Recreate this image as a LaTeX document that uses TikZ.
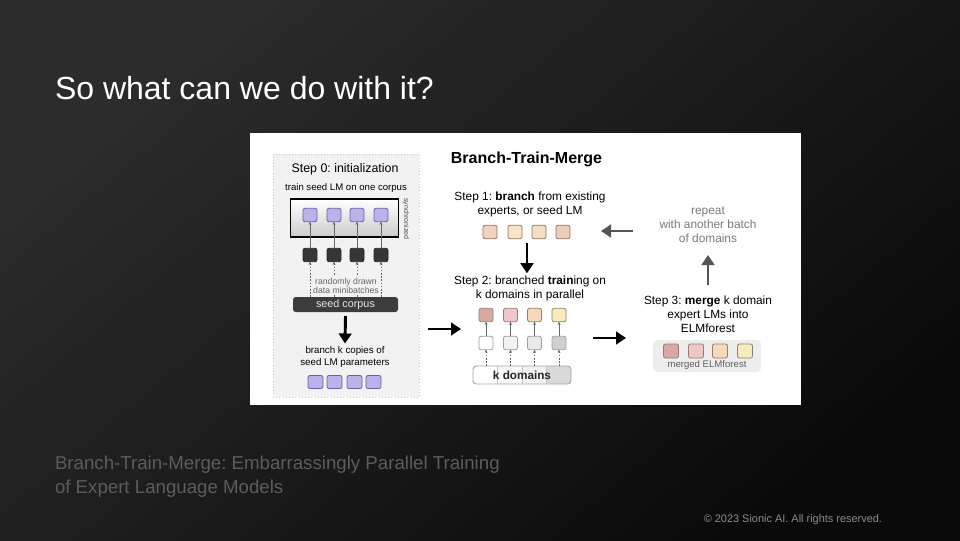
\documentclass[tikz,border=0pt]{standalone}
\usepackage{fontspec}
\setmainfont{Liberation Sans}
\usetikzlibrary{arrows.meta,calc}
\definecolor{bgA}{HTML}{2C2C2C}
\definecolor{bgB}{HTML}{0A0A0A}
\definecolor{stepbg}{HTML}{F2F2F2}
\definecolor{lav}{HTML}{BAB2EA}
\definecolor{lavd}{HTML}{6A62A6}
\definecolor{darksq}{HTML}{363636}
\definecolor{darkbar}{HTML}{3C3C3C}
\definecolor{corptext}{HTML}{E6E6E6}
\definecolor{pa}{HTML}{F2D2BC}
\definecolor{pb}{HTML}{F8E4C4}
\definecolor{pc}{HTML}{F5DCC2}
\definecolor{pd}{HTML}{EFCCBA}
\definecolor{peachd}{HTML}{8E7464}
\definecolor{ca}{HTML}{D9A9A1}
\definecolor{cb}{HTML}{F0C6C8}
\definecolor{cc}{HTML}{F5D9B8}
\definecolor{cd}{HTML}{F8EBBB}
\definecolor{wa}{HTML}{FFFFFF}
\definecolor{wb}{HTML}{F2F2F2}
\definecolor{wc}{HTML}{EAEAEA}
\definecolor{wd}{HTML}{D0D0D0}
\definecolor{kdb}{HTML}{F7F7F7}
\definecolor{kdc}{HTML}{F2F2F2}
\definecolor{kdd}{HTML}{D9D9D9}
\definecolor{mergebg}{HTML}{EDEDED}
\definecolor{reptext}{HTML}{7A7A7A}
\definecolor{arrgray}{HTML}{555555}
\definecolor{btmtext}{HTML}{5C5C5C}
\definecolor{copyc}{HTML}{8C8C8C}
\newcommand\fsz[2]{\fontsize{#1}{#2}\selectfont}
\frenchspacing
\begin{document}
\begin{tikzpicture}[x=0.75pt,y=-0.75pt,
  every node/.style={inner sep=0pt, outer sep=0pt},
  sq/.style={draw, line width=0.6pt, rounded corners=1.5pt, minimum width=10.5pt, minimum height=10pt, inner sep=0pt},
  purp/.style={sq, fill=lav, draw=lavd},
  darkbox/.style={sq, fill=darksq, draw=black!85},
  blk/.style={line width=2.2pt, -{Triangle[length=7.5pt,width=9.5pt]}},
  gry/.style={blk, draw=arrgray, color=arrgray},
  upthin/.style={draw=gray!80!black, line width=0.5pt, -{Stealth[length=2.5pt,width=2.2pt]}},
  updash/.style={upthin, dash pattern=on 1.2pt off 1.2pt}
]
\useasboundingbox (0,0) rectangle (960,540);
\shade[top color=bgA, bottom color=bgB, shading angle=40] (0,0) rectangle (960,540);

% title
\node[font=\fsz{24}{28}, text=white, anchor=base west] (title) at (55,99) {So what can we do with it?};

% panel
\node[fill=white, minimum width=413.25pt, minimum height=204pt, anchor=north west] (panel) at (250,133) {};

% ---------- step 0 ----------
\node[draw=gray!45, dotted, fill=stepbg, anchor=north west, minimum width=109.5pt, minimum height=182.25pt] (s0box) at (273,154) {};
\node[font=\fsz{9.3}{11}] (s0title) at (345,169) {Step 0: initialization};
\node[font=\fsz{7.2}{9}] (s0sub) at (346,188) {train seed LM on one corpus};
\node[draw=black, line width=1.4pt, top color=white, bottom color=gray!40, minimum width=81pt, minimum height=28pt] (sync) at (344.5,218) {};
\node[rotate=-90, font=\fsz{5.3}{6}, text=gray!60!black] (synclbl) at (406,219) {synchronized};
\node[fill=darkbar, rounded corners=2pt, minimum width=78.75pt, minimum height=11.25pt, font=\fsz{8.1}{9}, text=corptext] (corpus) at (345.5,304.5) {seed corpus};
\foreach \x [count=\i] in {310,334,357,381} {
  \node[purp] (p\i) at (\x,215) {};
  \node[darkbox] (d\i) at (\x,255) {};
  \draw[upthin] (d\i.north) -- (p\i.south);
  \draw[updash] (corpus.north -| d\i) -- (d\i.south);
}
\node[fill=stepbg, font=\fsz{6.5}{6.9}, text=gray!80!black, align=center, inner sep=1pt] (rand) at (346,285.5) {randomly drawn\\data minibatches};
\node[font=\fsz{7.3}{9}, align=center] (brk) at (345,357) {branch k copies of\\seed LM parameters};
\draw[blk] ($(corpus.south)+(0,4)$) -- ($(brk.north)+(0,-3)$);
\foreach \x [count=\i] in {315.5,334.5,354.5,373.5} {
  \node[purp, minimum width=11.25pt, minimum height=9.75pt] (b\i) at (\x,382) {};
}

% ---------- heading ----------
\node[font=\bfseries\fsz{12}{14}] (btm) at (526.5,159) {Branch-Train-Merge};

% ---------- step 1 ----------
\node[font=\fsz{8.9}{10.1}, align=center] (s1) at (530,204.5) {Step 1: \textbf{branch} from existing\\experts, or seed LM};
\foreach \x/\c [count=\i] in {490/pa,515/pb,539/pc,563/pd} {
  \node[sq, fill=\c, draw=peachd] (e\i) at (\x,232) {};
}

% ---------- step 2 ----------
\node[font=\fsz{8.9}{10.1}, align=center] (s2) at (530,288.5) {Step 2: branched \textbf{train}ing on\\k domains in parallel};
\draw[blk] ($(e2.south)!0.5!(e3.south)+(0,4)$) coordinate (ab) -- ($(ab |- s2.north)+(0,-3)$);
\node[draw=gray!70, line width=0.7pt, rounded corners=2.5pt, minimum width=73.5pt, minimum height=13.5pt,
  path picture={
    \foreach \k/\c in {0/white,1/kdb,2/kdc,3/kdd} {
      \fill[\c] ($(path picture bounding box.south west)!\k/4!(path picture bounding box.south east)$) rectangle ($(path picture bounding box.north west)!{(\k+1)/4}!(path picture bounding box.north east)$);
    }
    \foreach \k in {1,2,3} {
      \draw[gray!45, line width=0.4pt] ($(path picture bounding box.south west)!\k/4!(path picture bounding box.south east)$) -- ($(path picture bounding box.north west)!\k/4!(path picture bounding box.north east)$);
    }
  }, font=\bfseries\fsz{8.8}{10}, text=black!85] (kdom) at (522,375) {k domains};
\foreach \x/\c/\w [count=\i] in {486/ca/wa,510.5/cb/wb,534.5/cc/wc,559/cd/wd} {
  \node[sq, fill=\c, draw=gray!70!brown] (t\i) at (\x,315) {};
  \node[sq, fill=\w, draw=gray!75] (w\i) at (\x,343) {};
  \draw[upthin] (w\i.north) -- (t\i.south);
  \draw[updash] (kdom.north -| w\i) -- (w\i.south);
}

% ---------- big arrows ----------
\coordinate (a1s) at (428,329);
\coordinate (a1e) at (461,329);
\draw[blk] (a1s) -- (a1e);
\coordinate (a2s) at (593,338);
\coordinate (a2e) at (626,338);
\draw[blk] (a2s) -- (a2e);

% ---------- repeat ----------
\node[font=\fsz{8.9}{10.5}, align=center, text=reptext] (rep) at (708,224.5) {repeat\\with another batch\\of domains};
\coordinate (g1s) at (633,231);
\coordinate (g1e) at (601,231);
\draw[gry] (g1s) -- (g1e);
\coordinate (g2s) at (708,285);
\coordinate (g2e) at (708,255);
\draw[gry] (g2s) -- (g2e);

% ---------- step 3 ----------
\node[font=\fsz{8.9}{10.5}, align=center] (s3) at (708,314.5) {Step 3: \textbf{merge} k domain\\expert LMs into\\ELMforest};
\node[fill=mergebg, rounded corners=3pt, minimum width=81pt, minimum height=24pt] (mbox) at (707,356) {};
\foreach \x/\c [count=\i] in {671/ca,696/cb,720/cc,745/cd} {
  \node[sq, fill=\c, draw=gray!70!brown, minimum width=11.25pt, minimum height=10.5pt] (m\i) at (\x,351) {};
}
\node[font=\fsz{7.2}{8}, text=gray!75!black] (mlbl) at (707,365.5) {merged ELMforest};

% ---------- footer ----------
\node[anchor=base west, font=\fsz{14}{18}, text=btmtext] (ref1) at (55,469) {Branch-Train-Merge: Embarrassingly Parallel Training};
\node[anchor=base west, font=\fsz{14}{18}, text=btmtext] (ref2) at (55,493) {of Expert Language Models};
\node[anchor=base east, font=\fsz{8.2}{9}, text=copyc] (copy) at (882,522) {© 2023 Sionic AI. All rights reserved.};
\end{tikzpicture}
\end{document}
